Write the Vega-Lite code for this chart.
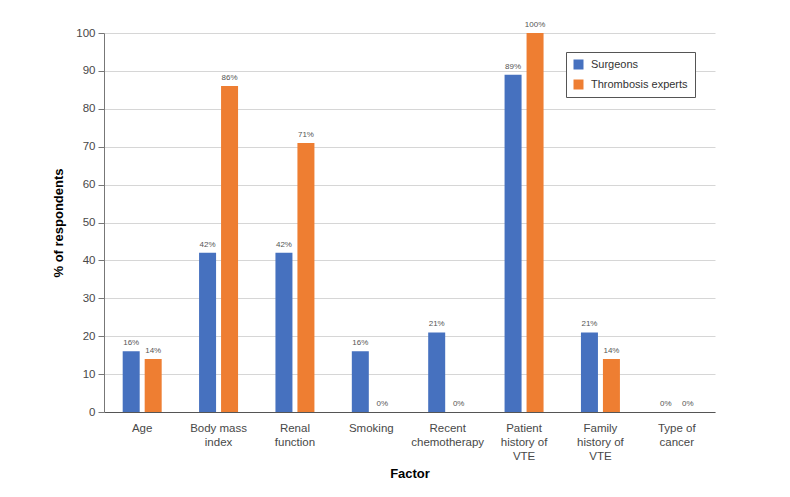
{
  "$schema": "https://vega.github.io/schema/vega-lite/v6.json",
  "width": 611,
  "height": 379,
  "autosize": {"type": "none"},
  "padding": {"left": 104, "top": 33, "right": 75, "bottom": 85},
  "background": "white",
  "data": {
    "values": [
      {"factor": "Age", "group": "Surgeons", "value": 16},
      {"factor": "Age", "group": "Thrombosis experts", "value": 14},
      {"factor": "Body mass|index", "group": "Surgeons", "value": 42},
      {"factor": "Body mass|index", "group": "Thrombosis experts", "value": 86},
      {"factor": "Renal|function", "group": "Surgeons", "value": 42},
      {"factor": "Renal|function", "group": "Thrombosis experts", "value": 71},
      {"factor": "Smoking", "group": "Surgeons", "value": 16},
      {"factor": "Smoking", "group": "Thrombosis experts", "value": 0},
      {"factor": "Recent|chemotherapy", "group": "Surgeons", "value": 21},
      {"factor": "Recent|chemotherapy", "group": "Thrombosis experts", "value": 0},
      {"factor": "Patient|history of|VTE", "group": "Surgeons", "value": 89},
      {"factor": "Patient|history of|VTE", "group": "Thrombosis experts", "value": 100},
      {"factor": "Family|history of|VTE", "group": "Surgeons", "value": 21},
      {"factor": "Family|history of|VTE", "group": "Thrombosis experts", "value": 14},
      {"factor": "Type of|cancer", "group": "Surgeons", "value": 0},
      {"factor": "Type of|cancer", "group": "Thrombosis experts", "value": 0}
    ]
  },
  "transform": [{"calculate": "datum.value + '%'", "as": "label"}],
  "encoding": {
    "x": {
      "field": "factor",
      "type": "nominal",
      "sort": null,
      "scale": {"paddingInner": 0, "paddingOuter": 0},
      "axis": {
        "title": "Factor",
        "labelExpr": "split(datum.label, '|')",
        "labelAngle": 0,
        "ticks": false,
        "labelPadding": 10,
        "labelFontSize": 11.5,
        "labelLineHeight": 14,
        "labelColor": "#484848",
        "labelFont": "Liberation Sans",
        "domainColor": "#555",
        "titleFont": "Liberation Sans",
        "titleFontSize": 13,
        "titleFontWeight": "bold",
        "titleColor": "#000",
        "titlePadding": 6
      }
    },
    "xOffset": {
      "field": "group",
      "type": "nominal",
      "scale": {"paddingInner": 0.227, "paddingOuter": 0.85}
    },
    "y": {
      "field": "value",
      "type": "quantitative",
      "scale": {"domain": [0, 100]},
      "axis": {
        "title": "% of respondents",
        "values": [0, 10, 20, 30, 40, 50, 60, 70, 80, 90, 100],
        "tickSize": 6,
        "tickColor": "#777",
        "domainColor": "#777",
        "gridColor": "#d6d6d6",
        "labelFontSize": 11.5,
        "labelColor": "#484848",
        "labelFont": "Liberation Sans",
        "labelPadding": 3,
        "titleFont": "Liberation Sans",
        "titleFontSize": 13,
        "titleFontWeight": "bold",
        "titleColor": "#000",
        "titlePadding": 10
      }
    }
  },
  "layer": [
    {
      "mark": {"type": "bar"},
      "encoding": {
        "color": {
          "field": "group",
          "type": "nominal",
          "scale": {"domain": ["Surgeons", "Thrombosis experts"], "range": ["#4671BF", "#EE7E32"]},
          "legend": {
            "title": null,
            "orient": "none",
            "legendX": 462,
            "legendY": 19,
            "strokeColor": "#555",
            "padding": 7,
            "symbolType": "square",
            "symbolSize": 100,
            "symbolStrokeWidth": 0,
            "symbolOpacity": 1,
            "labelFont": "Liberation Sans",
            "labelFontSize": 11,
            "labelColor": "#333",
            "labelOffset": 7,
            "rowPadding": 8,
            "fillColor": "white"
          }
        }
      }
    },
    {
      "mark": {"type": "text", "baseline": "bottom", "dy": -4, "fontSize": 8, "fill": "#555", "font": "Liberation Sans"},
      "encoding": {"text": {"field": "label"}}
    }
  ],
  "config": {"view": {"stroke": null}}
}
